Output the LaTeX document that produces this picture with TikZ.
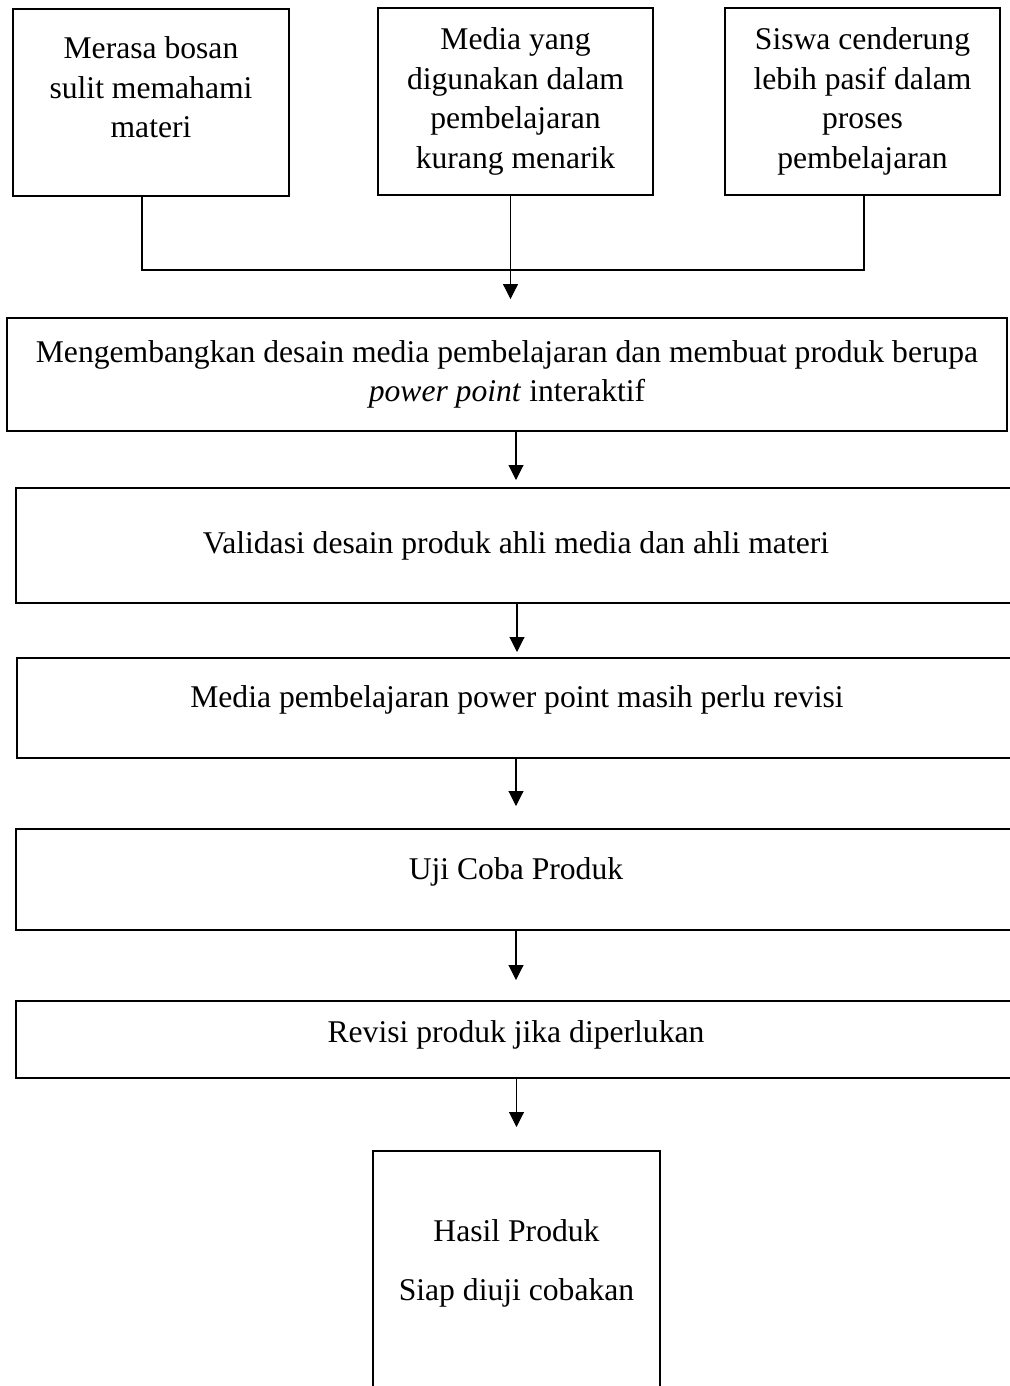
\documentclass[tikz,border=0pt]{standalone}
\usepackage{fontspec}
\setmainfont{Liberation Serif}
\usetikzlibrary{arrows.meta}

\begin{document}
\begin{tikzpicture}[x=0.02cm, y=-0.02cm, font=\fontsize{18}{22.5}\selectfont,
    box/.style={draw, line width=1.1pt, align=center, inner sep=0pt},
    wide/.style={box, minimum width=20cm, anchor=north},
    link/.style={line width=0.6pt},
    arr/.style={link, -{Triangle[width=0.3cm, length=0.3cm]}}]
  \useasboundingbox (0,0) rectangle (1010,1386);

  % masalah
  \node[box, anchor=north, minimum width=5.52cm, text height=2.58cm, text depth=1.16cm] (a) at (151,8) {Merasa bosan\\sulit memahami\\materi};
  \node[box, minimum width=5.5cm, minimum height=3.74cm] (b) at (515.5,101.5) {Media yang\\digunakan dalam\\pembelajaran\\kurang menarik};
  \node[box, minimum width=5.5cm, minimum height=3.74cm] (c) at (862.5,101.5) {Siswa cenderung\\lebih pasif dalam\\proses\\pembelajaran};

  % alur
  \node[box, minimum width=20cm, minimum height=2.26cm] (m) at (507,374.5) {Mengembangkan desain media pembelajaran dan membuat produk berupa\\\textit{power point} interaktif};
  \node[wide, text height=1.32cm, text depth=0.98cm] (v) at (516,487) {Validasi desain produk ahli media dan ahli materi};
  \node[wide, text height=1.0cm, text depth=1.0cm] (r) at (517,657) {Media pembelajaran power point masih perlu revisi};
  \node[wide, text height=1.02cm, text depth=1.0cm] (u) at (516,828) {Uji Coba Produk};
  \node[wide, text height=0.84cm, text depth=0.70cm] (rp) at (516,1000) {Revisi produk jika diperlukan};
  \node[box, anchor=north, minimum width=5.74cm, text height=3.0cm, text depth=2.4cm] (h) at (516.5,1150) {Hasil Produk\\[11.5pt]Siap diuji cobakan};

  \coordinate (jn) at (510,270);
  \draw[link] ([xshift=-0.18cm]a.south) |- (jn) -| ([xshift=0.03cm]c.south);
  \draw[arr, shorten >=0.36cm] ([xshift=-0.1cm]b.south) -- ([xshift=-0.1cm]b.south |- m.north);
  \draw[arr, shorten >=0.14cm] (v.north |- m.south) -- (v.north);
  \draw[arr, shorten >=0.1cm] (r.north |- v.south) -- (r.north);
  \draw[arr, shorten >=0.44cm] (u.north |- r.south) -- (u.north);
  \draw[arr, shorten >=0.4cm] (rp.north |- u.south) -- (rp.north);
  \draw[arr, shorten >=0.46cm] (h.north |- rp.south) -- (h.north);
\end{tikzpicture}
\end{document}
